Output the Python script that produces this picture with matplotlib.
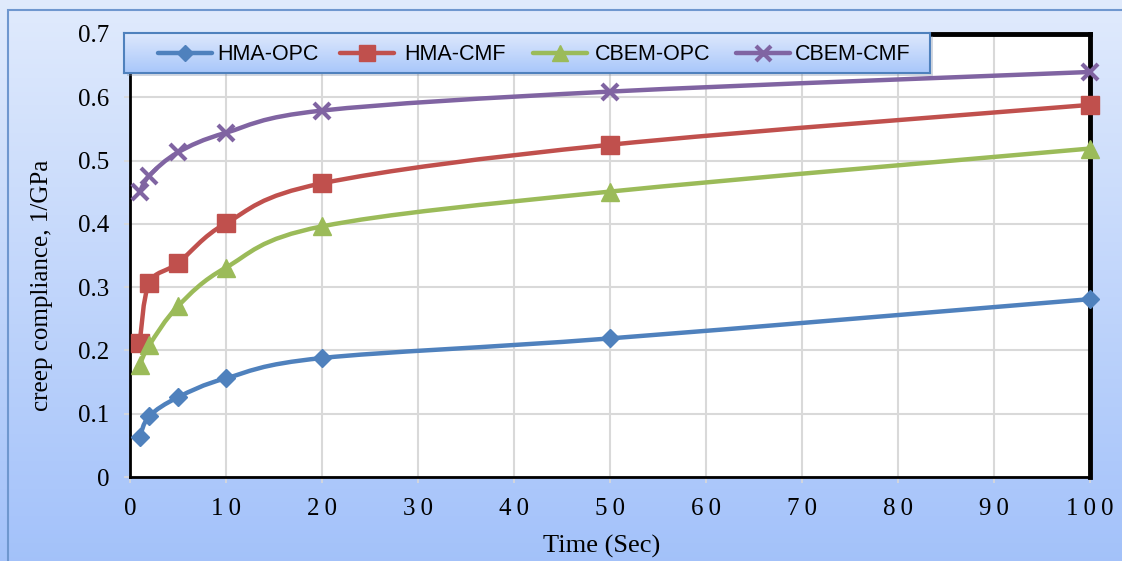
import numpy as np
import matplotlib
matplotlib.use("Agg")
import matplotlib.pyplot as plt
from matplotlib.path import Path
from matplotlib.patches import PathPatch, Rectangle

# Creep compliance (1/GPa) against loading time (s)
time_s = [1, 2, 5, 10, 20, 50, 100]
hma_opc = [0.063, 0.096, 0.126, 0.156, 0.188, 0.219, 0.281]
hma_cmf = [0.211, 0.306, 0.338, 0.401, 0.464, 0.525, 0.588]
cbem_opc = [0.177, 0.208, 0.270, 0.331, 0.396, 0.451, 0.519]
cbem_cmf = [0.450, 0.476, 0.513, 0.544, 0.579, 0.609, 0.640]

series_names = ["HMA-OPC", "HMA-CMF", "CBEM-OPC", "CBEM-CMF"]
series_values = [hma_opc, hma_cmf, cbem_opc, cbem_cmf]
colors = ["#4F81BD", "#C0504D", "#9BBB59", "#8064A2"]
markers = [("D", 9.5, 1), ("s", 13, 1), ("^", 13, 1), ("x", 12, 3)]

x_ticks = list(range(0, 101, 10))
y_ticks = [0, 0.1, 0.2, 0.3, 0.4, 0.5, 0.6, 0.7]
y_tick_labels = ["0", "0.1", "0.2", "0.3", "0.4", "0.5", "0.6", "0.7"]

W, H = 1122, 561
SERIF = ["Liberation Serif", "DejaVu Serif"]


def smooth_path(xs, ys):
    """Catmull-Rom style cubic Bezier through the points (spreadsheet-like smoothing)."""
    pts = np.column_stack([xs, ys]).astype(float)
    n = len(pts)
    verts = [pts[0]]
    codes = [Path.MOVETO]
    for i in range(n - 1):
        p0 = pts[i - 1] if i > 0 else pts[i]
        p1 = pts[i]
        p2 = pts[i + 1]
        p3 = pts[i + 2] if i + 2 < n else pts[i + 1]
        c1 = p1 + (p2 - p0) / 6.0
        c2 = p2 - (p3 - p1) / 6.0
        verts += [c1, c2, p2]
        codes += [Path.CURVE4] * 3
    return Path(verts, codes)


def vgradient(top, bottom):
    g = np.linspace(0, 1, 256).reshape(-1, 1, 1)
    top = np.array(top)
    bottom = np.array(bottom)
    return top + (bottom - top) * g * np.ones((1, 2, 1))


fig = plt.figure(figsize=(W / 100, H / 100), dpi=100)

# background panel with vertical gradient and blue border
bg = fig.add_axes([0, 0, 1, 1], zorder=0)
bg.imshow(vgradient([0.88, 0.92, 0.99], [0.64, 0.76, 0.98]),
          extent=[0, 1, 0, 1], aspect="auto", origin="upper")
bg.add_patch(Rectangle((8 / W, -0.05), 1.2, (551 / H) + 0.05, fill=False,
                       edgecolor="#6F97CF", lw=1.5, transform=bg.transAxes))
bg.set_xlim(0, 1)
bg.set_ylim(0, 1)
bg.axis("off")

ax = fig.add_axes([130 / W, 84 / H, 960 / W, 443 / H], zorder=1)
ax.set_facecolor("white")

for name, vals, col, (mk, ms, mew) in zip(series_names, series_values, colors, markers):
    ax.add_patch(PathPatch(smooth_path(time_s, vals), fill=False, edgecolor=col,
                           lw=3.2, capstyle="round", joinstyle="round", zorder=3))
    ax.plot(time_s, vals, linestyle="none", marker=mk, markersize=ms,
            color=col, markeredgewidth=mew, zorder=4, clip_on=False)

ax.set_xlim(0, 100)
ax.set_ylim(0, 0.7)
ax.set_xticks(x_ticks)
ax.set_yticks(y_ticks)
ax.set_xticklabels(["\u2009".join(str(v)) for v in x_ticks])
ax.set_yticklabels(y_tick_labels)
ax.grid(True, color="#D9D9D9", lw=1.5, zorder=0)
ax.set_axisbelow(True)
ax.tick_params(axis="both", direction="out", length=4, width=1.2, color="#D9D9D9",
               labelsize=18, labelcolor="black")
ax.tick_params(axis="x", pad=11)
ax.tick_params(axis="y", pad=11)
for lab in ax.get_xticklabels() + ax.get_yticklabels():
    lab.set_fontfamily(SERIF)

for side in ["left", "bottom"]:
    ax.spines[side].set_color("black")
    ax.spines[side].set_linewidth(2)
for side in ["top", "right"]:
    ax.spines[side].set_color("black")
    ax.spines[side].set_linewidth(3.5)

ax.set_xlabel("Time (Sec)", fontfamily=SERIF, fontsize=19, va="center")
ax.xaxis.set_label_coords((602 - 130) / 960, (477 - 546) / 443)
ax.set_ylabel("creep compliance, 1/GPa", fontfamily=SERIF, fontsize=18, va="center")
ax.yaxis.set_label_coords((42 - 130) / 960, (477 - 285) / 443)

# legend panel drawn above the plot area (coordinates in pixels)
lx0, lx1, ly0, ly1 = 124, 930, 33, 73
shadow = Rectangle(((lx0 + 3) / W, 1 - (ly1 + 3) / H), (lx1 - lx0) / W, (ly1 - ly0) / H,
                   transform=fig.transFigure, facecolor="#7f8fa8", alpha=0.35,
                   edgecolor="none", zorder=5)
fig.patches.append(shadow)
lax = fig.add_axes([lx0 / W, 1 - ly1 / H, (lx1 - lx0) / W, (ly1 - ly0) / H], zorder=6)
lax.imshow(vgradient([0.87, 0.91, 0.99], [0.66, 0.78, 0.98]),
           extent=[lx0, lx1, ly1, ly0], aspect="auto", origin="upper")
lax.set_xlim(lx0, lx1)
lax.set_ylim(ly1, ly0)
lax.set_xticks([])
lax.set_yticks([])
for sp in lax.spines.values():
    sp.set_color("#4F81BD")
    sp.set_linewidth(1.5)

marker_x = [185, 367, 560, 763]
text_x = [217, 404, 595, 795]
ly = 53
for name, col, (mk, ms, mew), mx, tx in zip(series_names, colors, markers, marker_x, text_x):
    lax.plot([mx - 27, mx + 27], [ly, ly], color=col, lw=3.2, solid_capstyle="round")
    lax.plot([mx], [ly], linestyle="none", marker=mk, markersize=ms * 0.9, color=col,
             markeredgewidth=mew)
    lax.text(tx, ly + 1, name, ha="left", va="center", fontsize=15.5,
             fontfamily="Liberation Sans", color="black")

fig.savefig("out.png", dpi=100)
